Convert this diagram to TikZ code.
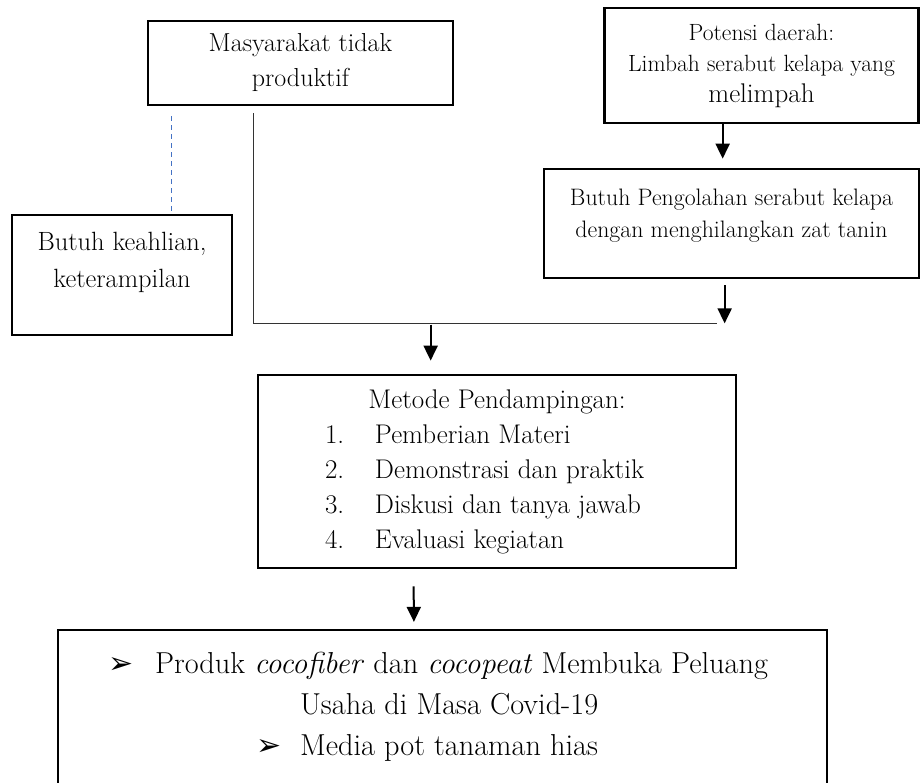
\documentclass[tikz,border=0pt]{standalone}
\usepackage{fontspec}
\newfontfamily\simbol{DejaVu Sans}
\usetikzlibrary{arrows.meta}
\usetikzlibrary{calc}
\usepackage{xcolor}
\definecolor{biruputus}{HTML}{4472C4}

\newcommand{\butir}[2]{\makebox[478pt][l]{\hspace{67pt}\makebox[50pt][l]{#1}#2}}
\newcommand{\panahkecil}{{\simbol\fontsize{30}{30}\selectfont ➢}}

\begin{document}
\begin{tikzpicture}[x=1pt,y=-1pt,
    kotak/.style={draw,line width=2.7pt,align=center,inner sep=0pt},
    panah/.style={line width=2pt,-{Triangle[length=15pt,width=14pt]}},
    garis/.style={line width=1.3pt,black!80},
    putus/.style={line width=1.2pt,biruputus,dash pattern=on 5pt off 4pt}]
      \useasboundingbox (0,0) rectangle (921,783);

      % Kotak atas
      \node[kotak,minimum width=305pt,minimum height=84pt,font=\fontsize{26}{35}\selectfont] (masyarakat) at (300.5,63) {Masyarakat tidak\\produktif};
      \node[kotak,minimum width=314pt,minimum height=115pt,font=\fontsize{23.5}{31}\selectfont] (potensi) at (761.5,65.5) {Potensi daerah:\\Limbah serabut kelapa yang\\{\fontsize{27}{31}\selectfont melimpah}};
      \node[kotak,minimum width=375pt,minimum height=109pt,font=\fontsize{23.8}{32}\selectfont] (olah) at (731.5,223.5) {Butuh Pengolahan serabut kelapa\\dengan menghilangkan zat tanin\rule[-20pt]{0pt}{20pt}};
      \node[kotak,minimum width=220pt,minimum height=120pt,font=\fontsize{26.4}{37}\selectfont] (keahlian) at (122,275) {Butuh keahlian,\\keterampilan\rule[-30pt]{0pt}{30pt}};

      % Metode
      \node[kotak,minimum width=478pt,minimum height=193pt,font=\fontsize{27}{35}\selectfont] (metode) at (497,471.5) {%
        \makebox[478pt][c]{Metode Pendampingan:}\\
        \butir{1.}{Pemberian Materi}\\
        \butir{2.}{Demonstrasi dan praktik}\\
        \butir{3.}{Diskusi dan tanya jawab}\\
        \butir{4.}{Evaluasi kegiatan}};

      % Hasil
      \node[kotak,line width=2.2pt,minimum width=769pt,minimum height=200pt,font=\fontsize{30.3}{41}\selectfont] (produk) at (442.5,730) {%
        \makebox[769pt][l]{\hspace{50pt}\makebox[47pt][l]{\panahkecil}Produk \textit{cocofiber} dan \textit{cocopeat} Membuka Peluang}\\
        \makebox[769pt][l]{\hspace{242pt}Usaha di Masa Covid-19}\\
        \makebox[769pt][l]{\hspace{198pt}\makebox[44pt][l]{\panahkecil}Media pot tanaman hias}\rule[-53pt]{0pt}{53pt}};

      % Penghubung
      \draw[putus] ($(keahlian.north west)+(161,-3)$) -- ($(masyarakat.south west)+(25,9)$);
      \draw[garis] ($(masyarakat.south west)+(107,7)$) |- ($(olah.south west)+(174,44)$);
      \draw[panah] ($(potensi.south west)+(119.5,0)$) -- ($(olah.north west)+(180,-9)$);
      \draw[panah] ($(olah.south west)+(182,6)$) -- ($(olah.south west)+(182,44)$);
      \draw[panah] ($(metode.north west)+(174,-49)$) -- ($(metode.north west)+(174,-13)$);
      \draw[panah] ($(metode.south west)+(157,17)$) -- ($(produk.north west)+(357,-7)$);
  \end{tikzpicture}
\end{document}
